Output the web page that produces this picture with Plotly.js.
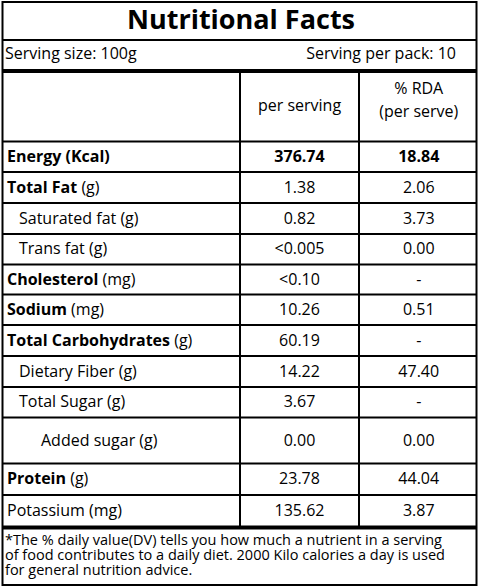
<!DOCTYPE html>
<html>
<head>
<meta charset="utf-8">
<script src="https://cdn.plot.ly/plotly-3.0.1.min.js"></script>
<style>
html,body{margin:0;padding:0;background:#fff;}
#chart{width:480px;height:588px;}
</style>
</head>
<body>
<div id="chart"></div>
<script>
// ---- data ----
const titleText = 'Nutritional Facts';
const servingSize = 'Serving size: 100g';
const servingPack = 'Serving per pack: 10';
const headerPerServing = 'per serving';
const headerRda = ['% RDA', '(per serve)'];
const nutrientNames = ['Energy (Kcal)', 'Total Fat', 'Saturated fat (g)', 'Trans fat (g)', 'Cholesterol', 'Sodium', 'Total Carbohydrates', 'Dietary Fiber (g)', 'Total Sugar (g)', 'Added sugar (g)', 'Protein', 'Potassium (mg)'];
const nutrientUnits = ['', ' (g)', '', '', ' (mg)', ' (mg)', ' (g)', '', '', '', ' (g)', ''];
const nameBold = [true, true, false, false, true, true, true, false, false, false, true, false];
const indentLevel = [0, 0, 1, 1, 0, 0, 0, 1, 1, 2, 0, 0];
const perServing = ['376.74', '1.38', '0.82', '<0.005', '<0.10', '10.26', '60.19', '14.22', '3.67', '0.00', '23.78', '135.62'];
const rdaPerServe = ['18.84', '2.06', '3.73', '0.00', '-', '0.51', '-', '47.40', '-', '0.00', '44.04', '3.87'];
const valueBold = [true, false, false, false, false, false, false, false, false, false, false, false];
const footnote = ['*The % daily value(DV) tells you how much a nutrient in a serving', 'of food contributes to a daily diet. 2000 Kilo calories a day is used', 'for general nutrition advice.'];

// ---- layout geometry ----
const W = 480, H = 588;
const FONT = '"Open Sans", Lato, sans-serif';
const bodySize = 16;
const outer = {x0: 2.5, x1: 476.5, y0: 2, y1: 585};
const titleBottom = 40;
const thickTop = 71;
const headerBottom = 141.5;
const rowEdges = [141.5, 172, 203, 234, 264.5, 294.5, 325, 356, 387, 417.5, 463.5, 495, 527.5];
const colX = [240, 359];
const indentX = [7, 19, 41];
const textDy = 1;
const footSize = 14.5, footLineGap = 15;

function esc(s){ return s.replace(/&/g,'&amp;').replace(/</g,'&lt;').replace(/>/g,'&gt;'); }

const rowMid = nutrientNames.map((_, i) => (rowEdges[i] + rowEdges[i+1]) / 2 + textDy);
const col2Mid = (colX[0] + colX[1]) / 2;
const col3Mid = (colX[1] + outer.x1) / 2 + 1;

const nameText = nutrientNames.map((n, i) => (nameBold[i] ? '<b>' + esc(n) + '</b>' : esc(n)) + esc(nutrientUnits[i]));
const psText = perServing.map((v, i) => valueBold[i] ? '<b>' + esc(v) + '</b>' : esc(v));
const rdaText = rdaPerServe.map((v, i) => valueBold[i] ? '<b>' + esc(v) + '</b>' : esc(v));
// footnote: one text block; line tspans use the base size (gap/1.3) so lines sit footLineGap apart
const footBase = footLineGap / 1.3;
const footText = footnote.map(l => '<span style="font-size:' + footSize + 'px">' + esc(l) + '</span>').join('<br>');

const baseFont = {family: FONT, size: bodySize, color: '#000'};

const traces = [
  { type: 'scatter', mode: 'text', x: nutrientNames.map((_, i) => indentX[indentLevel[i]]), y: rowMid,
    text: nameText, textposition: 'middle right', textfont: baseFont, hoverinfo: 'skip', cliponaxis: false },
  { type: 'scatter', mode: 'text', x: perServing.map(() => col2Mid), y: rowMid,
    text: psText, textposition: 'middle center', textfont: baseFont, hoverinfo: 'skip', cliponaxis: false },
  { type: 'scatter', mode: 'text', x: rdaPerServe.map(() => col3Mid), y: rowMid,
    text: rdaText, textposition: 'middle center', textfont: baseFont, hoverinfo: 'skip', cliponaxis: false },
  { type: 'scatter', mode: 'text', x: [col2Mid, col3Mid, col3Mid], y: [107, 90, 113],
    text: [headerPerServing].concat(headerRda).map(esc), textposition: 'middle center', textfont: baseFont, hoverinfo: 'skip', cliponaxis: false },
  { type: 'scatter', mode: 'text', x: [5], y: [55], text: [esc(servingSize)], textposition: 'middle right', textfont: baseFont, hoverinfo: 'skip', cliponaxis: false },
  { type: 'scatter', mode: 'text', x: [456], y: [55], text: [esc(servingPack)], textposition: 'middle left', textfont: baseFont, hoverinfo: 'skip', cliponaxis: false },
  { type: 'scatter', mode: 'text', x: [241], y: [22], text: ['<b>' + esc(titleText) + '</b>'], textposition: 'middle center',
    textfont: {family: FONT, size: 27, color: '#000'}, hoverinfo: 'skip', cliponaxis: false },
  { type: 'scatter', mode: 'text', x: [5], y: [557], text: [footText], textposition: 'middle right',
    textfont: {family: FONT, size: footBase, color: '#000'}, hoverinfo: 'skip', cliponaxis: false }
];

const shapes = [];
function hline(y, x0, x1, w){ shapes.push({type:'line', xref:'x', yref:'y', x0:x0, x1:x1, y0:y, y1:y, line:{color:'#000', width:w}}); }
function vline(x, y0, y1, w){ shapes.push({type:'line', xref:'x', yref:'y', x0:x, x1:x, y0:y0, y1:y1, line:{color:'#000', width:w}}); }
// outer border
shapes.push({type:'rect', xref:'x', yref:'y', x0:outer.x0, x1:outer.x1, y0:outer.y0, y1:outer.y1, line:{color:'#000', width:2}});
hline(titleBottom, outer.x0, outer.x1, 2);
hline(thickTop, outer.x0, outer.x1, 4);
hline(headerBottom, outer.x0, outer.x1, 2);
rowEdges.slice(1, -1).forEach(y => hline(y, outer.x0, outer.x1, 2));
hline(rowEdges[rowEdges.length-1], outer.x0, outer.x1, 4);
colX.forEach(x => vline(x, thickTop, rowEdges[rowEdges.length-1], 2));

const layout = {
  width: W, height: H,
  margin: {l:0, r:0, t:0, b:0, pad:0},
  paper_bgcolor: '#fff', plot_bgcolor: '#fff',
  showlegend: false,
  xaxis: {range:[0, W], visible:false, fixedrange:true},
  yaxis: {range:[H, 0], visible:false, fixedrange:true},
  shapes: shapes
};

Plotly.newPlot('chart', traces, layout, {staticPlot:true, displayModeBar:false});
</script>
</body>
</html>
